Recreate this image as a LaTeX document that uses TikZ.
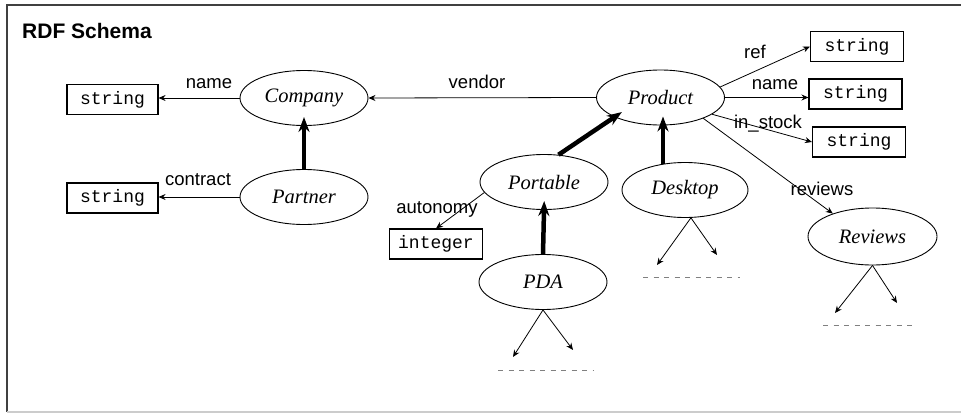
\documentclass[tikz,border=0pt]{standalone}
\usepackage{fontspec}
\setmainfont{Liberation Serif}
\setsansfont{Liberation Sans}
\setmonofont{Liberation Mono}
\usetikzlibrary{arrows.meta,shapes.geometric}

\begin{document}
\begin{tikzpicture}[x=1pt,y=-1pt,
  cls/.style={ellipse,draw,line width=0.9pt,inner sep=0pt,
    minimum width=128pt,minimum height=55pt,
    font=\fontsize{20.5}{24}\selectfont\itshape},
  lit/.style={rectangle,draw,line width=1.1pt,inner sep=0pt,
    minimum width=93pt,minimum height=30pt,
    font=\fontsize{18}{20}\selectfont\ttfamily},
  prop/.style={font=\fontsize{18.5}{20}\selectfont\sffamily,anchor=base,inner sep=0pt},
  rel/.style={line width=0.8pt,-{Stealth[length=7pt,width=6pt]}},
  sub/.style={line width=4.5pt,-{Stealth[length=15pt,width=11pt]},shorten >=-9pt},
  more/.style={gray,line width=0.8pt,dash pattern=on 5pt off 5.5pt}]

% page and frame
\useasboundingbox (0,0) rectangle (961,415);
\fill[white] (0,0) rectangle (961,415);
\draw[black!75,line width=2pt] (961,5) -- (7,5) -- (7,412);
\draw[black!20,line width=1.5pt] (7,412) -- (961,412);

\node[font=\fontsize{21}{24}\selectfont\sffamily\bfseries,anchor=base west,inner sep=0pt]
  (title) at (22,38) {RDF Schema};

% classes
\node[cls] (comp) at (304,98)   {Company};
\node[cls] (part) at (304,197)  {Partner};
\node[cls] (prod) at (660.5,97.5) {Product};
\node[cls] (port) at (544,182)  {Portable};
\node[cls,minimum width=126pt] (desk) at (685,190) {Desktop};
\node[cls] (pda)  at (543,282)  {PDA};
\node[cls,minimum width=129pt,minimum height=57pt] (rev) at (872.5,236.5) {Reviews};

% literals
\node[lit,minimum width=91pt] (s1) at (112.5,99.5) {string};
\node[lit,minimum width=91pt] (s2) at (112.5,198)  {string};
\node[lit] (sref)  at (857,46.5)  {string};
\node[lit] (sname) at (855.5,94)  {string};
\node[lit] (sstk)  at (859,142)   {string};
\node[lit] (int)   at (436,244)   {integer};

% property labels
\node[prop] (lname)  at (209,88)  {name};
\node[prop] (lcont)  at (198,185) {contract};
\node[prop] (lvend)  at (477,88)  {vendor};
\node[prop] (lref)   at (755,58)  {ref};
\node[prop] (lpname) at (775,89)  {name};
\node[prop] (lstk)   at (768,128) {in\_stock};
\node[prop] (lrev)   at (822,195) {reviews};
\node[prop] (laut)   at (437,213) {autonomy};

% properties
\draw[rel] (comp.west) -- (comp.west -| s1.east);
\draw[rel] (part.west) -- (part.west -| s2.east);
\draw[rel] (prod.west) -- (comp.east);
\draw[rel] (prod.10)   -- (sref.west);
\draw[rel] (prod.east) -- (prod.east -| sname.west);
\draw[rel] (prod.-18)  -- (sstk.west);
\draw[rel] (prod.-26)  -- (rev.150);
\draw[rel] (port.-170) -- (int.north);

% subclass links
\draw[sub] (part.north) -- (comp.south);
\draw[sub] (port.62)    -- (prod.-157);
\draw[sub] (desk.130)   -- (desk.130 |- prod.south);
\draw[sub] (pda.north)  -- (port.south);

% further properties, not expanded
\coordinate (pdaL) at (513,357);
\coordinate (pdaR) at (573,350);
\coordinate (dskL) at (657,265);
\coordinate (dskR) at (717,255);
\coordinate (revL) at (835,313);
\coordinate (revR) at (897,303);
\draw[rel] (pda.south) -- (pdaL);
\draw[rel] (pda.south) -- (pdaR);
\draw[rel] (desk.-78)  -- (dskL);
\draw[rel] (desk.-78)  -- (dskR);
\draw[rel] (rev.south) -- (revL);
\draw[rel] (rev.south) -- (revR);
\draw[more] (498,370) -- (593,370);
\draw[more] (643,277) -- (740,277);
\draw[more] (823,325) -- (917,325);
\end{tikzpicture}
\end{document}
